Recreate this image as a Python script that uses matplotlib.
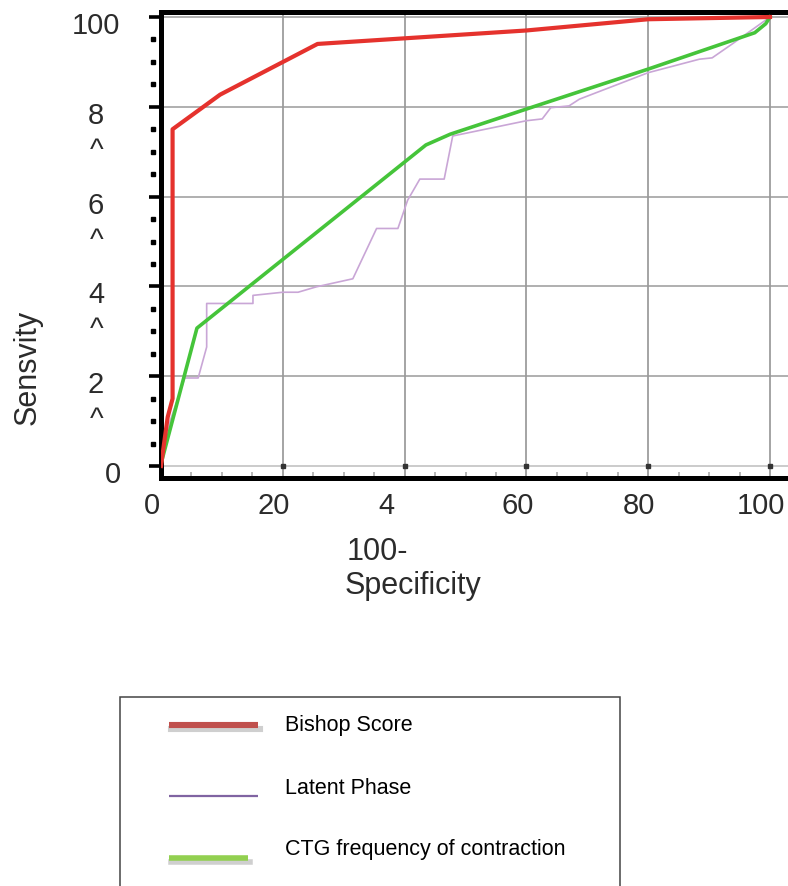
import matplotlib
matplotlib.use("Agg")
import matplotlib.pyplot as plt
import matplotlib.transforms as mtransforms
from matplotlib.lines import Line2D
from matplotlib.patches import Rectangle
import numpy as np

# ROC curves (x = 100-specificity, y = sensitivity)
bishop_fpr = [0, 0.4, 1.1, 1.9, 1.9, 9.7, 25.7, 60, 80, 100]
bishop_sens = [0, 4, 10.9, 15, 75, 82.7, 94, 97, 99.5, 100]

latent_fpr = [0, 1.5, 3.9, 6.1, 7.5, 7.5, 15.1, 15.1, 20, 22.5, 25.5, 31.5,
              35.4, 38.9, 40.5, 42.5, 46.5, 47.9, 60, 62.6, 64, 67, 68.7, 80,
              88.4, 90.5, 93.8, 100]
latent_sens = [0, 10, 19.6, 19.6, 26.5, 36.2, 36.2, 38, 38.7, 38.7, 39.9, 41.7,
               52.9, 52.9, 59.2, 63.9, 63.9, 73.5, 76.9, 77.3, 79.8, 80.2, 81.7, 87.6,
               90.6, 90.9, 94, 100]

ctg_fpr = [0, 5.9, 43.5, 47.5, 60, 80, 97.5, 99.3, 100]
ctg_sens = [0.5, 30.7, 71.5, 73.9, 79.5, 88.4, 96.5, 98.5, 100]

series_names = ["Bishop Score", "Latent Phase", "CTG frequency of contraction"]
xtick_vals = [0, 20, 40, 60, 80, 100]
xtick_text = ["0", "20", "4", "60", "80", "100"]
ytick_vals = [0, 20, 40, 60, 80, 100]
ytick_text = ["0", "2", "4", "6", "8", "100"]

W, H = 788, 886
fig = plt.figure(figsize=(W / 100, H / 100), dpi=100)
plt.rcParams["font.family"] = ["Liberation Sans", "DejaVu Sans"]

# axes placed in pixel terms
x0_px, x100_px = 161, 770
y0_px, y100_px = 466, 17
ppx = (x100_px - x0_px) / 100.0
ppy = (y0_px - y100_px) / 100.0
xlim = (0, 104)
ylim = (-12 / ppy, 100 + 5 / ppy)
left = x0_px / W
width = (xlim[1] - xlim[0]) * ppx / W
bottom = (H - (y0_px + 12)) / H
height = (ylim[1] - ylim[0]) * ppy / H
ax = fig.add_axes([left, bottom, width, height])
ax.set_xlim(*xlim)
ax.set_ylim(*ylim)

ax.grid(False)
for v in xtick_vals:
    ax.axvline(v, color="#8c8c8c", lw=1.1, zorder=1)
for v in ytick_vals:
    ax.axhline(v, color="#9a9a9a" if v else "#bdbdbd", lw=1.1, zorder=1)

ax.plot(latent_fpr, latent_sens, color="#c9a6d6", lw=1.2, zorder=3)
ax.plot(ctg_fpr, ctg_sens, color="#45c43a", lw=2.6, zorder=4)
ax.plot(bishop_fpr, bishop_sens, color="#e5322d", lw=3.0, zorder=5)

for side in ["left", "top"]:
    ax.spines[side].set_linewidth(3.6)
    ax.spines[side].set_color("black")
ax.spines["bottom"].set_linewidth(3.6)
ax.spines["right"].set_visible(False)

ax.set_xticks(xtick_vals)
ax.set_yticks(ytick_vals)
ax.set_xticklabels([])
ax.set_yticklabels([])
ax.set_xticks(np.arange(5, 100, 5), minor=True)
ax.tick_params(axis="y", which="major", direction="out", length=9, width=2.6, color="black")
ax.tick_params(axis="y", which="minor", left=False)
ax.tick_params(axis="x", which="major", direction="in", length=0)
ax.tick_params(axis="x", which="minor", direction="in", length=4, width=1.2, color="#aaaaaa")

# dotted minor marks left of the y spine, dots on the 0-line
ydots = [v for v in np.arange(5, 100, 5) if v % 20]
ax.plot([-0.012] * len(ydots), ydots, ls="none", marker="s", ms=2.4, color="black",
        transform=ax.get_yaxis_transform(), clip_on=False)
ax.plot(xtick_vals[1:], [0] * (len(xtick_vals) - 1), ls="none", marker="s", ms=2.2,
        color="#333333", zorder=6)

tick_color = "#2b2b2b"
dpi = fig.dpi
for v, t in zip(ytick_vals, ytick_text):
    dx = -65 if t != "0" else -48
    off = mtransforms.ScaledTranslation(dx / dpi, -9 / dpi, fig.dpi_scale_trans)
    ax.text(0, v, t, transform=ax.get_yaxis_transform() + off, ha="center", va="center",
            fontsize=21, color=tick_color, clip_on=False)
    if t in ("2", "4", "6", "8"):
        off2 = mtransforms.ScaledTranslation(-64 / dpi, -44 / dpi, fig.dpi_scale_trans)
        ax.text(0, v, "^", transform=ax.get_yaxis_transform() + off2, ha="center",
                va="center", fontsize=21, color=tick_color, clip_on=False)

for v, t in zip(xtick_vals, xtick_text):
    if t == "4":
        off = mtransforms.ScaledTranslation(-26 / dpi, -28 / dpi, fig.dpi_scale_trans)
        ha = "left"
    else:
        off = mtransforms.ScaledTranslation(-9 / dpi, -28 / dpi, fig.dpi_scale_trans)
        ha = "center"
    ax.text(v, 0, t, transform=ax.get_xaxis_transform() + off, ha=ha, va="center",
            fontsize=21, color=tick_color, clip_on=False)

fig.text(28 / W, 1 - 367 / H, "Sensvity", rotation=90, ha="center", va="center",
         fontsize=22, color=tick_color)
fig.text(347 / W, 1 - 560 / H, "100-", ha="left", va="baseline", fontsize=22, color=tick_color)
fig.text(345 / W, 1 - 594 / H, "Specificity", ha="left", va="baseline", fontsize=22,
         color=tick_color)

# legend box drawn at figure level, cut off at the bottom edge
fig.add_artist(Rectangle((120 / W, 1 - 905 / H), 500 / W, 208 / H, transform=fig.transFigure,
                         facecolor="none", edgecolor="#444444", lw=1.1))
legend_colors = ["#C0504D", "#8064A2", "#92D050"]
legend_widths = [4.4, 1.6, 4.0]
legend_ends = [258, 258, 248]
legend_y = [725, 796, 858]
text_base = [731, 794, 855]
for name, c, lw, x1, y, tb in zip(series_names, legend_colors, legend_widths,
                                  legend_ends, legend_y, text_base):
    if lw > 3:
        fig.add_artist(Line2D([171 / W, (x1 + 2) / W], [1 - (y + 4) / H] * 2,
                              transform=fig.transFigure, color="#b0b0b0", lw=lw,
                              alpha=0.6))
    fig.add_artist(Line2D([169 / W, x1 / W], [1 - y / H] * 2, transform=fig.transFigure,
                          color=c, lw=lw, solid_capstyle="butt"))
    fig.text(285 / W, 1 - tb / H, name, ha="left", va="baseline", fontsize=15.5,
             color="black")

fig.savefig("out.png", dpi=100)
